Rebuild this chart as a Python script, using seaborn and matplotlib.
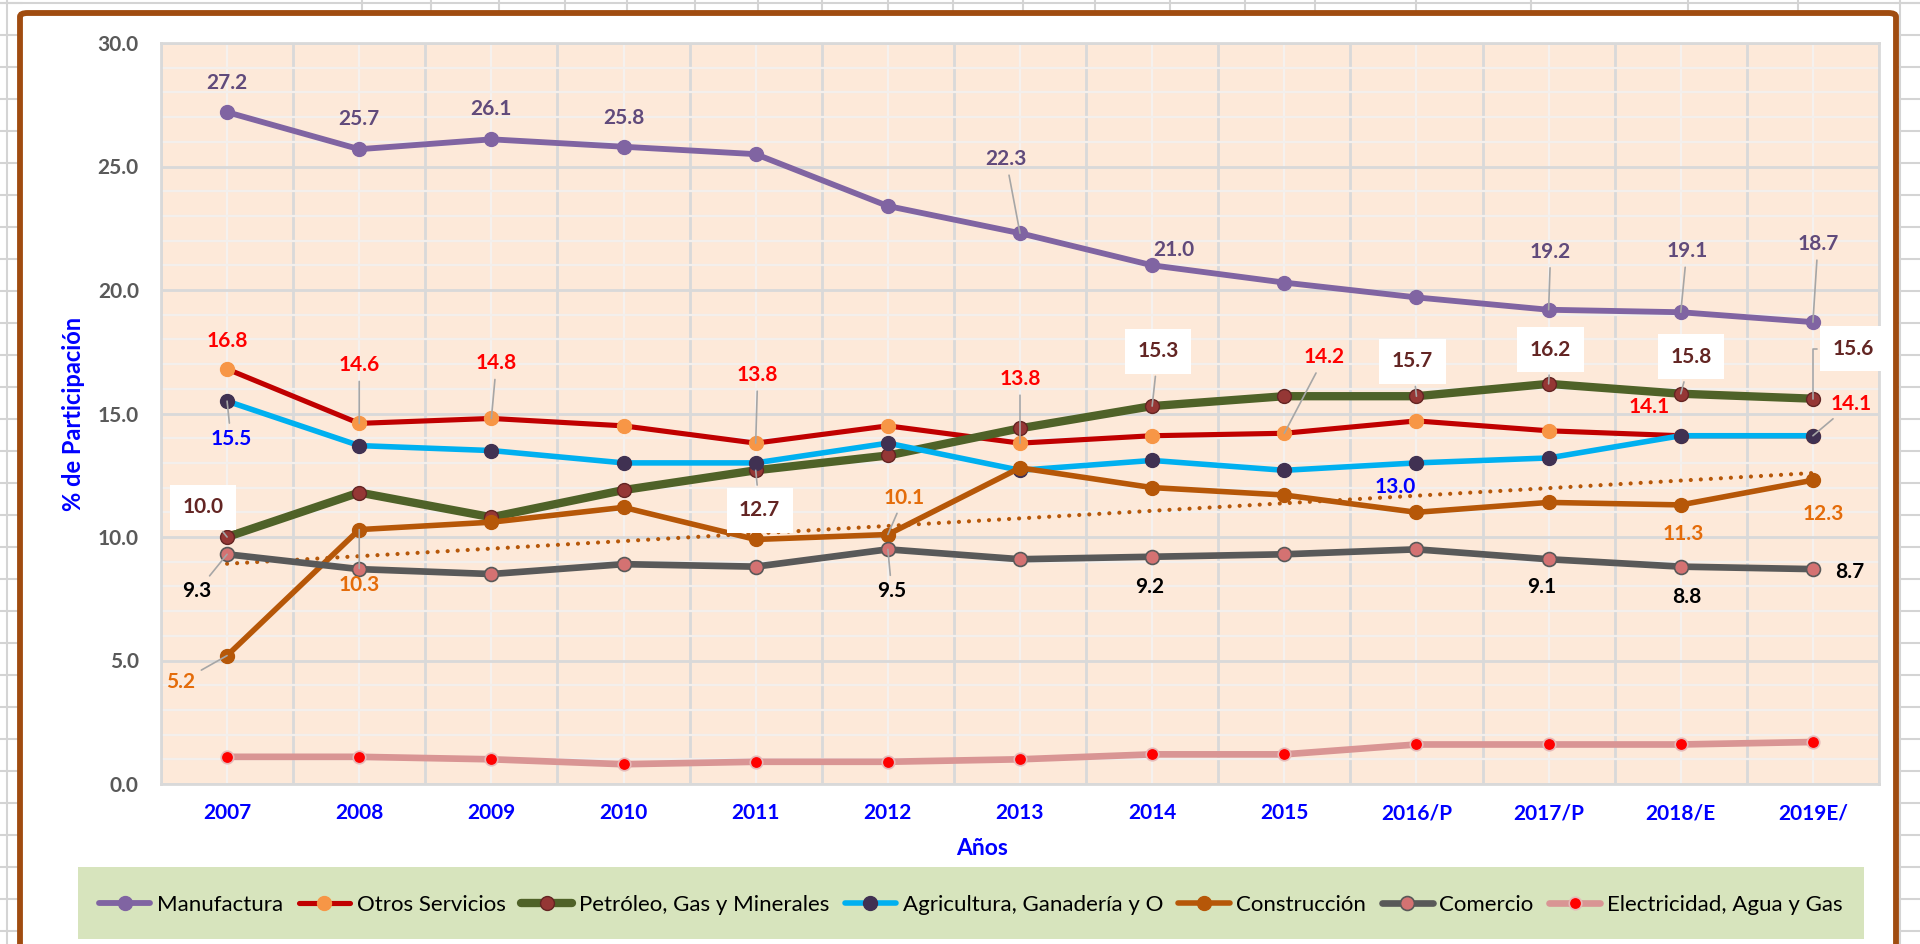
import numpy as np
import pandas as pd
import matplotlib
matplotlib.use("Agg")
import matplotlib.pyplot as plt
import seaborn as sns
from matplotlib.patches import Rectangle, FancyBboxPatch
from matplotlib.lines import Line2D

# ---------------- data ----------------
years = ['2007', '2008', '2009', '2010', '2011', '2012', '2013', '2014',
         '2015', '2016/P', '2017/P', '2018/E', '2019E/']
manufactura = [27.2, 25.7, 26.1, 25.8, 25.5, 23.4, 22.3, 21.0, 20.3, 19.7, 19.2, 19.1, 18.7]
otros_servicios = [16.8, 14.6, 14.8, 14.5, 13.8, 14.5, 13.8, 14.1, 14.2, 14.7, 14.3, 14.1, 14.1]
petroleo = [10.0, 11.8, 10.8, 11.9, 12.7, 13.3, 14.4, 15.3, 15.7, 15.7, 16.2, 15.8, 15.6]
agricultura = [15.5, 13.7, 13.5, 13.0, 13.0, 13.8, 12.7, 13.1, 12.7, 13.0, 13.2, 14.1, 14.1]
construccion = [5.2, 10.3, 10.6, 11.2, 9.9, 10.1, 12.8, 12.0, 11.7, 11.0, 11.4, 11.3, 12.3]
comercio = [9.3, 8.7, 8.5, 8.9, 8.8, 9.5, 9.1, 9.2, 9.3, 9.5, 9.1, 8.8, 8.7]
electricidad = [1.1, 1.1, 1.0, 0.8, 0.9, 0.9, 1.0, 1.2, 1.2, 1.6, 1.6, 1.6, 1.7]
series_names = ['Manufactura', 'Otros Servicios', 'Petróleo, Gas y Minerales',
                'Agricultura, Ganadería y O', 'Construcción', 'Comercio',
                'Electricidad, Agua y Gas']
y_ticks = [0, 5, 10, 15, 20, 25, 30]
x_title = 'Años'
y_title = '% de Participación'

# ---------------- style ----------------
sns.set_theme(style='white')
plt.rcParams['font.family'] = ['Lato', 'DejaVu Sans']

W, H = 1920, 944
fig = plt.figure(figsize=(W / 100, H / 100), dpi=100)
fig.patch.set_facecolor('white')


def fx(px):
    return px / W


def fy(py):
    return 1 - py / H


# Excel cell lines around the chart
cell = '#D4D4D4'
fig.add_artist(Line2D([0, 1], [fy(3), fy(3)], transform=fig.transFigure, color=cell, lw=1.5, zorder=-3))
fig.add_artist(Line2D([fx(7), fx(7)], [0, 1], transform=fig.transFigure, color=cell, lw=1.5, zorder=-3))
fig.add_artist(Line2D([fx(1900), fx(1900)], [0, 1], transform=fig.transFigure, color=cell, lw=1.5, zorder=-3))
for yy in range(3, H, 32):
    fig.add_artist(Line2D([0, fx(22)], [fy(yy), fy(yy)], transform=fig.transFigure, color=cell, lw=1.5, zorder=-3))
    fig.add_artist(Line2D([fx(1895), 1], [fy(yy), fy(yy)], transform=fig.transFigure, color=cell, lw=1.5, zorder=-3))
for xx in [362, 431, 499, 565, 627, 695, 758, 822, 888, 953, 1023, 1095, 1170,
           1245, 1315, 1416, 1531, 1688, 1798]:
    fig.add_artist(Line2D([fx(xx), fx(xx)], [fy(0), fy(13)], transform=fig.transFigure, color=cell, lw=1.5, zorder=-3))

# brown chart frame
frame = FancyBboxPatch((fx(20), fy(965)), fx(1896) - fx(20), fy(13) - fy(965),
                       boxstyle='round,pad=0,rounding_size=0.004',
                       transform=fig.transFigure, fc='white', ec='#A04C10', lw=4.2, zorder=-2)
fig.add_artist(frame)

# legend background
fig.add_artist(Rectangle((fx(78), fy(939)), fx(1864) - fx(78), fy(867) - fy(939),
                         transform=fig.transFigure, fc='#D7E4BD', ec='none', zorder=-1))

ax = fig.add_axes([fx(161), fy(784), fx(1879) - fx(161), fy(43) - fy(784)])
ax.set_zorder(1)
ax.set_facecolor('#FDE9D9')

x = np.arange(len(years))

styles = [
    dict(color='#8064A2', lw=4.2, mfc='#8064A2', mec='#8064A2', mew=1.0, ms=10),
    dict(color='#C00000', lw=3.7, mfc='#F79646', mec='#F79646', mew=1.0, ms=10),
    dict(color='#4F6228', lw=6.0, mfc='#953735', mec='#632523', mew=1.0, ms=10),
    dict(color='#00B0F0', lw=4.0, mfc='#403152', mec='#403152', mew=1.0, ms=10),
    dict(color='#B65708', lw=4.0, mfc='#B65708', mec='#B65708', mew=1.0, ms=10),
    dict(color='#595959', lw=4.8, mfc='#D47272', mec='#595959', mew=1.2, ms=10),
    dict(color='#D99594', lw=4.8, mfc='#FF0000', mec='#E6B9B8', mew=1.2, ms=9),
]
all_vals = [manufactura, otros_servicios, petroleo, agricultura, construccion, comercio, electricidad]

for k, (name, vals, st) in enumerate(zip(series_names, all_vals, styles)):
    df = pd.DataFrame({'x': x, 'y': vals})
    sns.lineplot(data=df, x='x', y='y', ax=ax, color=st['color'], linewidth=st['lw'],
                 marker='o', markersize=st['ms'], markerfacecolor=st['mfc'],
                 markeredgecolor=st['mec'], markeredgewidth=st['mew'],
                 label=name, legend=False, zorder=3 + k, solid_capstyle='round')
    if name == 'Construcción':
        coef = np.polyfit(x, np.array(vals), 1)
        tdf = pd.DataFrame({'x': x, 'y': np.polyval(coef, x)})
        sns.lineplot(data=tdf, x='x', y='y', ax=ax, color='#B65708', linewidth=3.0,
                     linestyle=(0, (0.01, 2.4)), dash_capstyle='round',
                     label='_nolegend_', legend=False, zorder=3 + k + 0.5)

# axes
ax.set_xlim(-0.5, len(years) - 0.5)
ax.set_ylim(0, 30)
ax.set_xticks(x)
ax.set_xticklabels(years, fontweight='bold', color='#0000FF', fontsize=15)
ax.set_xticks(np.arange(-0.5, len(years), 1), minor=True)
ax.set_yticks(y_ticks)
ax.set_yticklabels([f'{t:.1f}' for t in y_ticks], fontweight='bold', color='#595959', fontsize=15)
ax.set_yticks(np.arange(0, 31, 1), minor=True)
ax.tick_params(axis='both', which='both', length=0)
ax.tick_params(axis='x', which='major', pad=14)
ax.tick_params(axis='y', which='major', pad=16)
ax.set_axisbelow(True)
ax.grid(which='major', axis='y', color='#D9D9D9', lw=2)
ax.grid(which='minor', axis='y', color='#F3EFEC', lw=1.6)
ax.grid(which='major', axis='x', color='#F5F1EE', lw=1.6)
ax.grid(which='minor', axis='x', color='#D9D9D9', lw=2)
for s in ax.spines.values():
    s.set_color('#D9D9D9')
    s.set_linewidth(2)

ax.set_xlabel(x_title, fontsize=16.5, fontweight='bold', color='#0000FF')
ax.xaxis.label.set_va('center')
ax.xaxis.set_label_coords(0.478, -0.0864)
ax.set_ylabel(y_title, fontsize=17, fontweight='bold', color='#0000FF')
ax.yaxis.set_label_coords(-0.044, 0.5)

# data labels: series index -> {point index: (dx px, dy px, leader)}
label_pos = [
    {0: (0, 29, False), 1: (0, 30, False), 2: (0, 30, False), 3: (0, 29, False),
     6: (-14, 74, True), 7: (22, 15, False), 10: (2, 58, True), 11: (6, 61, True), 12: (5, 78, True)},
    {0: (0, 28, False), 1: (0, 58, True), 2: (5, 55, True), 4: (2, 68, True), 6: (0, 64, True),
     8: (40, 76, True), 11: (-32, 29, False), 12: (38, 32, True)},
    {0: (-24, 30, True), 4: (4, -40, True), 7: (6, 55, True), 9: (-4, 35, True),
     10: (2, 34, True), 11: (10, 37, True), 12: (40, 50, 'elbow')},
    {0: (4, -38, True), 9: (-21, -24, False)},
    {0: (-46, -26, True), 1: (0, -55, True), 5: (16, 37, True), 11: (2, -29, False), 12: (10, -34, False)},
    {0: (-30, -37, True), 5: (4, -42, True), 7: (-2, -30, False), 10: (-7, -28, False),
     11: (6, -30, False), 12: (37, -3, False)},
    {},
]
label_colors = ['#604A7B', '#FF0000', '#632523', '#0000FF', '#E46C0A', '#000000', '#000000']

for k, (vals, pos) in enumerate(zip(all_vals, label_pos)):
    for i, (dx, dy, leader) in pos.items():
        kw = dict(textcoords='offset pixels', ha='center', va='center', fontsize=15,
                  fontweight='bold', color=label_colors[k], zorder=20)
        if k == 2:
            kw['bbox'] = dict(boxstyle='square,pad=0.6', fc='white', ec='none')
        if leader:
            cs = 'angle,angleA=180,angleB=90,rad=0' if leader == 'elbow' else 'arc3'
            kw['arrowprops'] = dict(arrowstyle='-', color='#A6A6A6', lw=1.2,
                                    shrinkA=2, shrinkB=0, connectionstyle=cs)
        ax.annotate(f'{vals[i]:.1f}', xy=(i, vals[i]), xytext=(dx, dy), **kw)

# legend
handles, labels = ax.get_legend_handles_labels()
leg = fig.legend(handles, labels, loc='center', bbox_to_anchor=(fx(971), fy(905)),
                 ncol=7, frameon=False, fontsize=16, handlelength=2.3,
                 handletextpad=0.3, columnspacing=0.7, numpoints=1)
for t in leg.get_texts():
    t.set_color('black')

fig.savefig('out.png', dpi=100, facecolor='white')
